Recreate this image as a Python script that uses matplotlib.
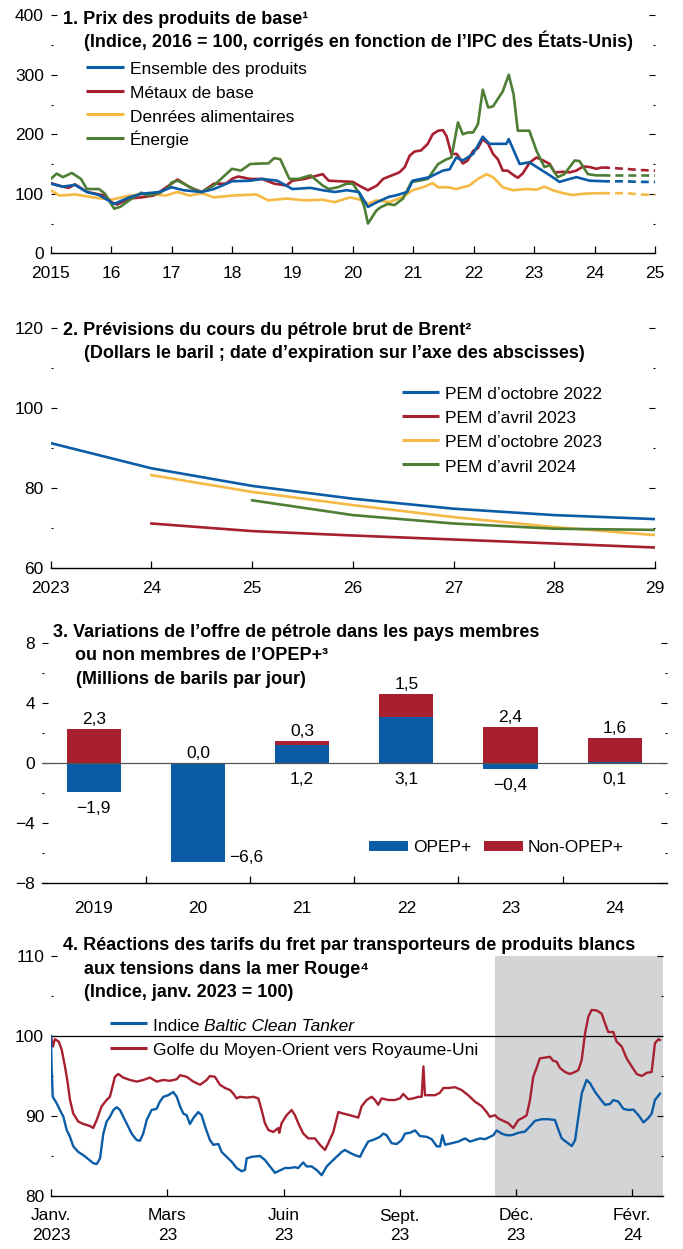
import matplotlib

matplotlib.use("Agg")
import matplotlib.pyplot as plt  # noqa: E402
import matplotlib.font_manager as fm  # noqa: E402
import numpy as np  # noqa: E402
from matplotlib.lines import Line2D  # noqa: E402
from matplotlib.patches import Rectangle  # noqa: E402

W, H = 683, 1249

# condensed sans if we have one, plain otherwise
_names = {f.name for f in fm.fontManager.ttflist}
FONT = next(
    (n for n in ("Liberation Sans Narrow", "DejaVu Sans Condensed", "Liberation Sans") if n in _names),
    "DejaVu Sans",
)
plt.rcParams["font.family"] = [FONT, "DejaVu Sans"]

BLUE = "#0b5ca6"
RED = "#a81f30"
YELLOW = "#f5b945"
GREEN = "#4d7e34"
SHADE = "#d3d4d6"
TICK_FS = 12.5
TITLE_FS = 13

# ---------------------------------------------------------------------------
# panel 1: commodity prices (index 2016 = 100)
# ---------------------------------------------------------------------------
ens_x = [2015.0, 2015.2, 2015.4, 2015.6, 2015.8, 2016.0, 2016.05, 2016.3, 2016.5, 2016.8,
         2017.0, 2017.2, 2017.5, 2017.7, 2018.0, 2018.3, 2018.5, 2018.75, 2019.0, 2019.3,
         2019.5, 2019.7, 2019.9, 2020.1, 2020.25, 2020.4, 2020.6, 2020.7, 2020.9, 2020.99,
         2021.27, 2021.49, 2021.6, 2021.71, 2021.82, 2021.99, 2022.15, 2022.26, 2022.54,
         2022.58, 2022.76, 2022.92, 2023.09, 2023.26, 2023.42, 2023.59, 2023.7, 2023.92, 2024.19]
ens_y = [117, 112, 115, 103, 98, 86, 83, 94, 100, 103,
         111, 106, 103, 108, 121, 122, 125, 122, 108, 110,
         106, 103, 106, 103, 78, 86, 95, 97, 103, 122,
         128, 139, 141, 161, 156, 167, 196, 184, 184,
         192, 150, 153, 142, 131, 120, 125, 128, 122, 121]

met_x = [2015.0, 2015.2, 2015.3, 2015.4, 2015.6, 2015.9, 2016.0, 2016.1, 2016.3, 2016.5,
         2016.7, 2016.8, 2017.1, 2017.3, 2017.5, 2017.7, 2017.9, 2018.0, 2018.1, 2018.3,
         2018.5, 2018.7, 2018.9, 2019.0, 2019.2, 2019.5, 2019.6, 2019.8, 2020.0, 2020.1,
         2020.25, 2020.4, 2020.5, 2020.77, 2020.86, 2020.94, 2021.02, 2021.13, 2021.24,
         2021.32, 2021.41, 2021.49, 2021.55, 2021.63, 2021.72, 2021.82, 2021.9, 2021.99,
         2022.07, 2022.15, 2022.24, 2022.32, 2022.4, 2022.48, 2022.56, 2022.65, 2022.73,
         2022.81, 2022.93, 2023.04, 2023.15, 2023.26, 2023.34, 2023.48, 2023.59, 2023.7,
         2023.81, 2023.92, 2024.03, 2024.11, 2024.19]
met_y = [118, 112, 110, 116, 103, 97, 86, 82, 92, 94,
         97, 103, 124, 111, 103, 117, 117, 125, 129, 125,
         125, 117, 114, 122, 125, 133, 122, 121, 120, 114,
         106, 114, 125, 136, 145, 164, 171, 173, 184,
         200, 206, 207, 197, 167, 167, 151, 156, 172,
         177, 192, 184, 167, 158, 139, 139, 132, 127,
         134, 153, 161, 156, 150, 136, 137, 136, 139,
         146, 145, 142, 144, 144]

food_x = [2015.0, 2015.15, 2015.4, 2015.7, 2016.0, 2016.3, 2016.6, 2016.9, 2017.1, 2017.3,
          2017.5, 2017.7, 2018.0, 2018.4, 2018.6, 2018.9, 2019.2, 2019.5, 2019.7, 2019.95,
          2020.17, 2020.25, 2020.39, 2020.61, 2020.83, 2020.99, 2021.16, 2021.32, 2021.41,
          2021.57, 2021.71, 2021.93, 2022.07, 2022.21, 2022.32, 2022.48, 2022.65, 2022.87,
          2023.04, 2023.17, 2023.31, 2023.48, 2023.64, 2023.81, 2024.03, 2024.19]
food_y = [106, 97, 99, 94, 90, 97, 100, 97, 103, 97,
          101, 94, 97, 99, 89, 92, 89, 90, 86, 94,
          89, 83, 89, 86, 95, 106, 111, 118, 111,
          111, 108, 114, 125, 133, 128, 111, 106, 108,
          107, 112, 106, 101, 98, 100, 101, 101]

nrg_x = [2015.0, 2015.1, 2015.2, 2015.35, 2015.5, 2015.6, 2015.8, 2015.9, 2016.0, 2016.05,
         2016.15, 2016.3, 2016.5, 2016.6, 2016.8, 2016.95, 2017.0, 2017.1, 2017.2, 2017.4,
         2017.5, 2017.7, 2017.85, 2018.0, 2018.15, 2018.3, 2018.5, 2018.6, 2018.7, 2018.8,
         2018.95, 2019.1, 2019.3, 2019.5, 2019.6, 2019.75, 2019.9, 2020.0, 2020.11, 2020.19,
         2020.25, 2020.39, 2020.47, 2020.58, 2020.69, 2020.83, 2020.97, 2021.1, 2021.24,
         2021.41, 2021.55, 2021.63, 2021.74, 2021.82, 2021.9, 2021.99, 2022.07, 2022.15,
         2022.24, 2022.32, 2022.48, 2022.58, 2022.66, 2022.73, 2022.92, 2023.04, 2023.17,
         2023.26, 2023.39, 2023.5, 2023.67, 2023.75, 2023.89, 2024.03, 2024.19]
nrg_y = [125, 134, 128, 135, 125, 108, 108, 100, 83, 75,
         78, 89, 102, 97, 101, 111, 119, 122, 117, 106,
         103, 114, 128, 142, 139, 150, 151, 151, 160, 158,
         125, 125, 131, 114, 108, 111, 117, 117, 100, 78,
         50, 72, 78, 83, 81, 92, 120, 122, 125,
         150, 158, 161, 220, 200, 203, 203, 217, 275,
         245, 247, 272, 300, 267, 206, 206, 172, 145,
         148, 128, 133, 156, 155, 133, 131, 131]

# staff projections, dashed
fc_x = [2024.19, 2024.5, 2024.75, 2025.0]
fc_ens = [121, 121, 120, 120]
fc_met = [144, 142, 140, 139]
fc_food = [101, 101, 99, 98]
fc_nrg = [131, 131, 131, 131]

# ---------------------------------------------------------------------------
# panel 2: Brent futures curves (USD/barrel)
# ---------------------------------------------------------------------------
weo_oct22_x = [2023, 2024, 2025, 2026, 2027, 2028, 2029]
weo_oct22 = [91.3, 85.0, 80.6, 77.4, 74.9, 73.3, 72.3]
weo_apr23_x = [2024, 2025, 2026, 2027, 2028, 2029]
weo_apr23 = [71.2, 69.3, 68.2, 67.2, 66.2, 65.2]
weo_oct23_x = [2024, 2025, 2026, 2027, 2028, 2029]
weo_oct23 = [83.3, 79.1, 75.8, 72.8, 70.3, 68.3]
weo_apr24_x = [2025, 2026, 2027, 2028, 2029]
weo_apr24 = [77.0, 73.3, 71.2, 69.9, 69.6]

# ---------------------------------------------------------------------------
# panel 3: oil supply changes (mb/d)
# ---------------------------------------------------------------------------
supply_years = ["2019", "20", "21", "22", "23", "24"]
opec = [-1.9, -6.6, 1.2, 3.1, -0.4, 0.1]
non_opec = [2.3, 0.0, 0.3, 1.5, 2.4, 1.6]

# ---------------------------------------------------------------------------
# panel 4: clean tanker freight (index, Jan 2023 = 100), business days
# ---------------------------------------------------------------------------
bct_day = [0, 0.3, 0.9, 2.9, 4.6, 6.4, 8.1, 9.8, 11.5, 14.1, 16.7, 19.3, 21.8, 23.6, 25.3,
           27, 28.7, 30.4, 32.2, 33.9, 35.6, 37.3, 39, 41.6, 44.2, 45.9, 47.6, 49.4, 51.9,
           54.5, 56.2, 58, 60.5, 63.1, 64.9, 66.6, 68.3, 70, 71.7, 73.5, 76, 77.7, 79.5,
           82, 83.8, 86.4, 88.1, 90.6, 93.2, 95.8, 98.4, 100.1, 101, 103.6, 107.9, 110.4,
           113, 115.6, 118.2, 120.8, 123.3, 125.9, 127.6, 130.2, 131.9, 134.5, 137.1,
           139.7, 142.3, 144.8, 147.4, 150, 151.7, 154.3, 156.9, 159.5, 161.2, 163.7,
           167.2, 169.8, 171.5, 173.2, 175.8, 178.4, 181, 182.7, 185.3, 187.9, 190.4,
           193.9, 196.5, 199.1, 200.8, 202, 203.4, 206.8, 210.2, 213.7, 216.3, 218.8,
           221.4, 224, 226.6, 228.3, 230, 232.6, 235.2, 237.8, 241.2, 244.6, 247.2,
           249.8, 253.3, 256.7, 260.1, 261.9, 263.6, 266.2, 268.8, 270.5, 272.2, 273.9,
           276.4, 278.2, 280.8, 283.3, 285.9, 288.5, 290.2, 292.8, 295.4, 298, 300.6,
           303.2, 305.8, 308.3, 310, 311.7, 314.3]
bct = [100, 96.2, 92.4, 91.6, 90.75, 89.9, 88.25, 87.4, 86.2, 85.5, 85.1, 84.6, 84.1, 84.0,
       84.7, 87.8, 89.3, 89.9, 90.75, 91.1, 90.75, 89.9, 89.1, 87.8, 87, 86.9, 87.8, 89.5,
       90.75, 90.9, 91.8, 92.4, 92.6, 93.0, 92.4, 91.2, 90.3, 90.1, 89, 89.75, 90.5, 90.1,
       88.7, 87, 86.4, 86.5, 85.5, 84.9, 84.3, 83.5, 83.1, 83.25, 84.7, 84.9, 85, 84.5,
       83.7, 82.9, 83.2, 83.5, 83.5, 83.6, 83.5, 84.2, 83.7, 83.7, 83.25,
       82.6, 83.7, 84.3, 84.9, 85.5, 85.75, 85.4, 85.1, 84.9, 85.75, 86.8,
       87.1, 87.4, 87.8, 87.6, 86.6, 86.5, 87, 87.8, 87.9, 88.2, 87.5,
       87.4, 87.1, 86.2, 86.2, 87.6, 86.4, 86.6, 86.8, 87.2, 86.8, 87,
       87.2, 87.1, 87.4, 87.6, 88.2, 87.8, 87.6, 87.6, 87.9, 88.05, 88.7,
       89.4, 89.6, 89.6, 89.5, 88.25, 87.2, 86.7, 86.25, 87, 89.9, 92.8,
       94.5, 94.1, 93.0, 92.2, 91.4, 91.5, 92, 91.8, 90.9, 90.75, 90.8,
       90.1, 89.2, 89.75, 90.3, 92, 92.8]

gulf_day = [0, 1, 2, 4, 5.5, 7.2, 8.4, 9.8, 11.5, 14.1, 16.7, 20.1, 21.8, 23.6, 26.1, 28.7,
            30.4, 33, 34.7, 37.3, 40.8, 44.2, 47.6, 51.1, 54.5, 58, 61.4, 64.9, 66.6, 70,
            73.5, 76.9, 80.3, 82, 84.6, 87.2, 89.8, 92.4, 94.1, 95.8, 97.5, 101, 104.4,
            107, 108.7, 110.4, 112.2, 114.7, 117.3, 117.8, 119, 121.6, 124.2, 125.9, 127.6,
            130.2, 132.8, 136.2, 138.8, 141.4, 143.1, 145.7, 148.3, 150.9, 154.3, 158.6,
            160.3, 162.9, 165.5, 167.2, 168.9, 170.6, 174.1, 177.5, 180.1, 181.8, 184.4,
            187, 189.6, 191.3, 192.2, 193, 194.7, 198.2, 200.7, 202.5, 205, 208.5, 211.9,
            215.3, 218.8, 222.2, 224.8, 226.5, 229.1, 230.8, 233.4, 236, 238.6, 241.2,
            243.7, 245.5, 247.2, 248.9, 250.6, 252.3, 254.9, 257.5, 259.2, 260.9, 262.7,
            265.3, 267.8, 270.4, 272.2, 273.9, 275.6, 277.3, 279, 281.6, 284.2, 285.9,
            287.6, 290.2, 291.9, 294.5, 297.1, 299.7, 302.3, 304.9, 307.5, 310, 311.7,
            313.5, 314.3]
gulf = [100, 98.7, 99.6, 99.3, 98.3, 96.2, 94.5, 92, 90.3, 89.3, 89, 88.75, 88.5, 89.5,
        91.2, 92, 92.4, 94.9, 95.25, 94.8, 94.5, 94.3, 94.5, 94.8, 94.3, 94.5, 94.4, 94.6,
        95.1, 94.9, 94.3, 93.9, 94.5, 95, 94.9, 93.9, 93.5, 93.25, 92.8, 92.2, 92.4, 92.3,
        92.4, 92.2, 90.75, 89.1, 88.25, 88.0, 88.5, 87.9, 89.1, 90.1, 90.75, 90.1, 89.1,
        87.8, 87.2, 87.2, 86.4, 85.75, 86.6, 88.0, 90.5, 90.3, 90.1, 89.8,
        91.2, 92, 92.4, 92, 91.4, 92.2, 92, 92, 92.2, 92.75, 92.1,
        92.2, 92.4, 92.4, 96.2, 92.6, 92.6, 92.6, 92.9, 93.5, 93.5, 93.6, 93.25,
        92.6, 91.8, 91.25, 90.5, 89.9, 90.1, 89.7, 89.4, 89.1, 88.5, 89.5,
        89.8, 90.1, 92, 94.9, 96, 97.2, 97.3, 97.4, 96.9, 96.8, 96,
        95.5, 95.25, 95.5, 95.75, 97, 100.3, 102.4, 103.25, 103.2, 102.8, 101.6,
        100.5, 100.5, 99.3, 98.7, 97.2, 96.2, 95.25, 95, 95.4, 95.5, 99.1,
        99.6, 99.5]

red_sea_start = 229  # business day when Red Sea attacks began
freight_ticks = [0, 60, 120, 180, 240, 300]
freight_labels = ["Janv.\n2023", "Mars\n23", "Juin\n23", "Sept.\n23", "Déc.\n23", "Févr.\n24"]


def rect(x0, x1, y0, y1):
    """axes box from pixel edges (y measured from the top)"""
    return [x0 / W, 1 - y1 / H, (x1 - x0) / W, (y1 - y0) / H]


def ftext(fig, x, y, s, **kw):
    kw.setdefault("fontsize", TICK_FS)
    return fig.text(x / W, 1 - y / H, s, va="baseline", **kw)


def leg_line(fig, x0, x1, y, color, lw=2.2):
    fig.add_artist(Line2D([x0 / W, x1 / W], [1 - y / H] * 2, color=color, lw=lw,
                          solid_capstyle="butt"))


def leg_box(fig, x0, x1, y0, y1, color):
    fig.add_artist(Rectangle((x0 / W, 1 - y1 / H), (x1 - x0) / W, (y1 - y0) / H,
                             color=color, lw=0))


def style(ax, major, minor, labels=None):
    for side in ("left", "top", "right"):
        ax.spines[side].set_visible(False)
    ax.spines["bottom"].set_linewidth(1.0)
    ax.patch.set_alpha(0)
    ax.set_yticks(major, labels if labels else [str(v) for v in major])
    ax.set_yticks(minor, minor=True)
    ax.tick_params(axis="y", which="both", direction="in", right=True, labelright=False,
                   labelsize=TICK_FS, width=0.8, pad=5)
    ax.tick_params(axis="y", which="major", length=4.5)
    ax.tick_params(axis="y", which="minor", length=1.6)
    ax.tick_params(axis="x", which="both", direction="in", labelsize=TICK_FS, width=0.9,
                   length=5, pad=9)


def minus(v):
    return f"{v:.1f}".replace(".", ",").replace("-", "\u2212")


fig = plt.figure(figsize=(W / 100, H / 100), dpi=100)

# --- panel 1 ---------------------------------------------------------------
ax1 = fig.add_axes(rect(50.7, 655, 15.3, 253.3))
for xs, ys, fy, c in ((food_x, food_y, fc_food, YELLOW), (met_x, met_y, fc_met, RED),
                      (nrg_x, nrg_y, fc_nrg, GREEN), (ens_x, ens_y, fc_ens, BLUE)):
    ax1.plot(xs, ys, color=c, lw=1.9)
    ax1.plot(fc_x, fy, color=c, lw=1.9, ls=(1.5, (3, 1.9)))
ax1.set_xlim(2015, 2025)
ax1.set_ylim(0, 400)
ax1.set_xticks(range(2015, 2026), ["2015"] + [f"{y % 100:02d}" for y in range(2016, 2026)])
style(ax1, [0, 100, 200, 300, 400], [50, 150, 250, 350])

ftext(fig, 63, 23.5, "1. Prix des produits de base\u00b9", fontsize=TITLE_FS, fontweight="bold")
ftext(fig, 84, 47, "(Indice, 2016 = 100, corrigés en fonction de l\u2019IPC des États-Unis)",
      fontsize=TITLE_FS, fontweight="bold")
for i, (lab, c) in enumerate((("Ensemble des produits", BLUE), ("Métaux de base", RED),
                              ("Denrées alimentaires", YELLOW), ("Énergie", GREEN))):
    y = 74 + 23.8 * i
    leg_line(fig, 86, 124, y - 7.3, c)
    ftext(fig, 130, y, lab)

# --- panel 2 ---------------------------------------------------------------
ax2 = fig.add_axes(rect(50.7, 655, 328.3, 568.3))
pem = (("PEM d\u2019octobre 2022", weo_oct22_x, weo_oct22, BLUE),
       ("PEM d\u2019avril 2023", weo_apr23_x, weo_apr23, RED),
       ("PEM d\u2019octobre 2023", weo_oct23_x, weo_oct23, YELLOW),
       ("PEM d\u2019avril 2024", weo_apr24_x, weo_apr24, GREEN))
for _, xs, ys, c in pem:
    ax2.plot(xs, ys, color=c, lw=1.9)
ax2.set_xlim(2023, 2029)
ax2.set_ylim(60, 120)
ax2.set_xticks(range(2023, 2030), ["2023"] + [f"{y % 100}" for y in range(2024, 2030)])
style(ax2, [60, 80, 100, 120], [70, 90, 110])

ftext(fig, 63, 335, "2. Prévisions du cours du pétrole brut de Brent\u00b2", fontsize=TITLE_FS,
      fontweight="bold")
ftext(fig, 84, 358.5, "(Dollars le baril ; date d\u2019expiration sur l\u2019axe des abscisses)",
      fontsize=TITLE_FS, fontweight="bold")
for i, (lab, _, _, c) in enumerate(pem):
    y = 399 + 24.2 * i
    leg_line(fig, 402, 439, y - 7.3, c)
    ftext(fig, 445, y, lab)

# --- panel 3 ---------------------------------------------------------------
ax3 = fig.add_axes(rect(41.7, 666.7, 643.3, 883.3))
pos = np.arange(len(supply_years))
base = np.maximum(opec, 0)
ax3.bar(pos, opec, width=0.52, color=BLUE, zorder=2)
ax3.bar(pos, non_opec, width=0.52, bottom=base, color=RED, zorder=2)
ax3.axhline(0, color="#555555", lw=0.9, zorder=3)
ax3.set_xlim(-0.5, len(supply_years) - 0.5)
ax3.set_ylim(-8, 8)
style(ax3, [-8, -4, 0, 4, 8], [-6, -2, 2, 6], ["\u22128", "\u22124", "0", "4", "8"])
ax3.set_xticks(pos, supply_years)
ax3.set_xticks(pos[:-1] + 0.5, minor=True)
ax3.tick_params(axis="x", which="major", length=0, pad=13)
ax3.tick_params(axis="x", which="minor", length=5)

for p, o, n, b in zip(pos, opec, non_opec, base):
    ax3.annotate(minus(n), (p, b + n), xytext=(0, 3.5), textcoords="offset points",
                 ha="center", va="baseline", fontsize=TICK_FS)
    if o < -5:
        ax3.annotate(minus(o), (p + 0.26, o), xytext=(3, 0), textcoords="offset points",
                     ha="left", va="baseline", fontsize=TICK_FS)
    else:
        ax3.annotate(minus(o), (p, min(o, 0)), xytext=(0, -6.5), textcoords="offset points",
                     ha="center", va="top", fontsize=TICK_FS)

ftext(fig, 53, 637, "3. Variations de l\u2019offre de pétrole dans les pays membres",
      fontsize=TITLE_FS, fontweight="bold")
ftext(fig, 75, 660, "ou non membres de l\u2019OPEP+\u00b3", fontsize=TITLE_FS, fontweight="bold")
ftext(fig, 76, 683.5, "(Millions de barils par jour)", fontsize=TITLE_FS, fontweight="bold")
leg_box(fig, 369, 408, 841, 851, BLUE)
ftext(fig, 413, 852, "OPEP+")
leg_box(fig, 484, 523, 841, 851, RED)
ftext(fig, 528, 852, "Non-OPEP+")

# --- panel 4 ---------------------------------------------------------------
ax4 = fig.add_axes(rect(51, 662.5, 956, 1196))
x_end = 315.6
ax4.axvspan(red_sea_start, x_end, color=SHADE, lw=0, zorder=0)
ax4.axhline(100, color="black", lw=0.9, zorder=1)
ax4.plot(gulf_day, gulf, color=RED, lw=1.7, zorder=2)
ax4.plot(bct_day, bct, color=BLUE, lw=1.7, zorder=3)
ax4.set_xlim(0, x_end)
ax4.set_ylim(80, 110)
ax4.set_xticks(freight_ticks, freight_labels)
for lab in ax4.get_xticklabels():
    lab.set_linespacing(1.35)
style(ax4, [80, 90, 100, 110], [85, 95, 105])

ftext(fig, 63, 950, "4. Réactions des tarifs du fret par transporteurs de produits blancs",
      fontsize=TITLE_FS, fontweight="bold")
ftext(fig, 84, 973.5, "aux tensions dans la mer Rouge\u2074", fontsize=TITLE_FS, fontweight="bold")
ftext(fig, 84, 997, "(Indice, janv. 2023 = 100)", fontsize=TITLE_FS, fontweight="bold")
leg_line(fig, 110, 147, 1023.3, BLUE)
t = ftext(fig, 153, 1030.7, "Indice ")
ax4.annotate("Baltic Clean Tanker", xy=(1, 0), xycoords=t, va="bottom", ha="left",
             fontsize=TICK_FS, style="italic", annotation_clip=False)
leg_line(fig, 110, 147, 1048.3, RED)
ftext(fig, 153, 1055, "Golfe du Moyen-Orient vers Royaume-Uni")

fig.savefig("out.png", dpi=100)
